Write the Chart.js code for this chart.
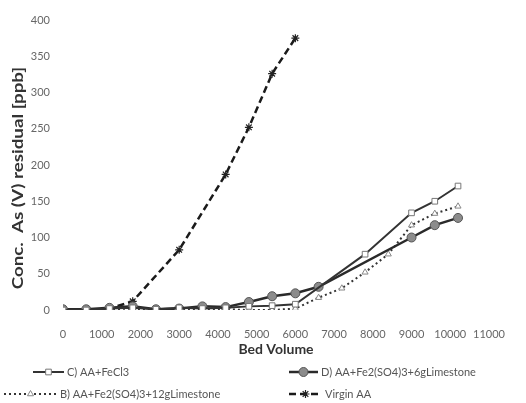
<!DOCTYPE html>
<html>
<head>
<meta charset="utf-8">
<script src="https://cdn.jsdelivr.net/npm/chart.js@4.4.0/dist/chart.umd.min.js"></script>
<style>
  body { margin: 0; background: #fff; }
  #wrap { width: 526px; height: 403px; }
</style>
</head>
<body>
<div id="wrap"><canvas id="chart" width="526" height="403"></canvas></div>
<script>
// bed volumes and residual As(V) concentrations [ppb]
var bvC = [0, 600, 1200, 1800, 2400, 3000, 3600, 4200, 4800, 5400, 6000, 7800, 9000, 9600, 10200];
var concC = [0, 0, 2, 3, 1, 3, 2, 3, 5, 6, 8, 77, 134, 150, 171];

var bvD = [0, 600, 1200, 1800, 2400, 3000, 3600, 4200, 4800, 5400, 6000, 6600, 9000, 9600, 10200];
var concD = [1, 1, 3, 5, 1, 2, 5, 4, 11, 19, 23, 32, 100, 117, 127];

var bvB = [0, 600, 1200, 1800, 2400, 3000, 3600, 4200, 4800, 5400, 6000, 6600, 7200, 7800, 8400, 9000, 9600, 10200];
var concB = [0, 0, 1, 2, 0, 1, 0, 1, 0, 0, 2, 17, 30, 52, 77, 117, 133, 143];

var bvVirgin = [0, 600, 1200, 1800, 3000, 4200, 4800, 5400, 6000];
var concVirgin = [0, 0, 2, 12, 83, 187, 252, 326, 375];

var seriesNames = ["C) AA+FeCl3", "D) AA+Fe2(SO4)3+6gLimestone", "B) AA+Fe2(SO4)3+12gLimestone", "Virgin AA"];

var xTicks = [0, 1000, 2000, 3000, 4000, 5000, 6000, 7000, 8000, 9000, 10000, 11000];
var yTicks = [0, 50, 100, 150, 200, 250, 300, 350, 400];

var yTitle = "Conc.  As (V) residual [ppb]";

function toPoints(xs, ys)
{
    var pts = [];
    for (var i = 0; i < xs.length; i++) pts.push({x: xs[i], y: ys[i]});
    return pts;
}

var fontFace = "Lato, 'Open Sans', sans-serif";

// legend drawn as two columns under the axis title
var legendSpots = [
    {x0: 33, x1: 64, y: 372},
    {x0: 289, x1: 318, y: 372},
    {x0: 4, x1: 57, y: 394},
    {x0: 289, x1: 322, y: 394}
];

var twoColLegend = {
    id: 'twoColLegend',
    afterDraw: function(chart)
    {
        var ctx = chart.ctx;
        chart.data.datasets.forEach(function(ds, i)
        {
            var s = legendSpots[i];
            ctx.save();
            ctx.strokeStyle = ds.borderColor;
            ctx.lineWidth = ds.borderWidth;
            ctx.setLineDash(ds.borderDash || []);
            ctx.beginPath();
            ctx.moveTo(s.x0, s.y);
            ctx.lineTo(s.x1, s.y);
            ctx.stroke();
            ctx.setLineDash([]);
            ctx.fillStyle = ds.pointBackgroundColor;
            ctx.strokeStyle = ds.pointBorderColor;
            ctx.lineWidth = ds.pointBorderWidth;
            Chart.helpers.drawPoint(ctx, {
                pointStyle: ds.pointStyle,
                radius: ds.pointRadius,
                rotation: 0,
                borderWidth: ds.pointBorderWidth
            }, (s.x0 + s.x1) / 2, s.y);
            ctx.fillStyle = '#555';
            ctx.font = "11px " + fontFace;
            ctx.textAlign = 'left';
            ctx.textBaseline = 'middle';
            ctx.fillText(ds.label, s.x1 + 3, s.y);
            ctx.restore();
        });
    }
};

// vertical axis title, drawn a little wider than the tick font
var yTitlePlugin = {
    id: 'yTitlePlugin',
    afterDraw: function(chart)
    {
        var ctx = chart.ctx;
        ctx.save();
        ctx.translate(18, 178);
        ctx.rotate(-Math.PI / 2);
        ctx.scale(1.25, 1);
        ctx.fillStyle = '#333';
        ctx.font = "bold 15px " + fontFace;
        ctx.textAlign = 'center';
        ctx.textBaseline = 'middle';
        ctx.fillText(yTitle, 0, 0);
        ctx.restore();
    }
};

var ctx = document.getElementById('chart').getContext('2d');

new Chart(ctx, {
    type: 'scatter',
    data: {
        datasets: [
            {
                label: seriesNames[0],
                data: toPoints(bvC, concC),
                showLine: true,
                borderColor: '#333',
                borderWidth: 2,
                pointStyle: 'rect',
                pointRadius: 4,
                pointBackgroundColor: '#fff',
                pointBorderColor: '#777',
                pointBorderWidth: 1
            },
            {
                label: seriesNames[1],
                data: toPoints(bvD, concD),
                showLine: true,
                borderColor: '#2a2a2a',
                borderWidth: 2.5,
                pointStyle: 'circle',
                pointRadius: 4.5,
                pointBackgroundColor: '#8c8c8c',
                pointBorderColor: '#555',
                pointBorderWidth: 1
            },
            {
                label: seriesNames[2],
                data: toPoints(bvB, concB),
                showLine: true,
                borderColor: '#333',
                borderWidth: 2,
                borderDash: [2, 3],
                pointStyle: 'triangle',
                pointRadius: 3.5,
                pointBackgroundColor: '#fff',
                pointBorderColor: '#888',
                pointBorderWidth: 1
            },
            {
                label: seriesNames[3],
                data: toPoints(bvVirgin, concVirgin),
                showLine: true,
                borderColor: '#1a1a1a',
                borderWidth: 2.5,
                borderDash: [7, 4],
                pointStyle: 'star',
                pointRadius: 4,
                pointBackgroundColor: '#222',
                pointBorderColor: '#222',
                pointBorderWidth: 1.2
            }
        ]
    },
    options: {
        responsive: false,
        animation: false,
        layout: {padding: {left: 0, right: 37, top: 20, bottom: 45}},
        plugins: {
            legend: {display: false},
            tooltip: {enabled: false}
        },
        scales: {
            x: {
                type: 'linear',
                min: 0,
                max: 11000,
                afterBuildTicks: function(scale) { scale.ticks = xTicks.map(function(v) { return {value: v}; }); },
                afterFit: function(scale) { scale.height = 48; },
                grid: {display: false, drawTicks: false},
                border: {display: false},
                ticks: {
                    autoSkip: false, maxRotation: 0, padding: 18, color: '#666',
                    font: {family: fontFace, size: 11},
                    callback: function(v) { return String(v); }
                },
                title: {display: true, text: 'Bed Volume', color: '#333', padding: {top: 0, bottom: 0}, font: {family: fontFace, size: 14, weight: 'bold'}}
            },
            y: {
                min: 0,
                max: 400,
                afterBuildTicks: function(scale) { scale.ticks = yTicks.map(function(v) { return {value: v}; }); },
                afterFit: function(scale) { scale.width = 63; },
                grid: {display: false, drawTicks: false},
                border: {display: false},
                ticks: {padding: 13, color: '#666', font: {family: fontFace, size: 11}},
                title: {display: false}
            }
        }
    },
    plugins: [twoColLegend, yTitlePlugin]
});
</script>
</body>
</html>
